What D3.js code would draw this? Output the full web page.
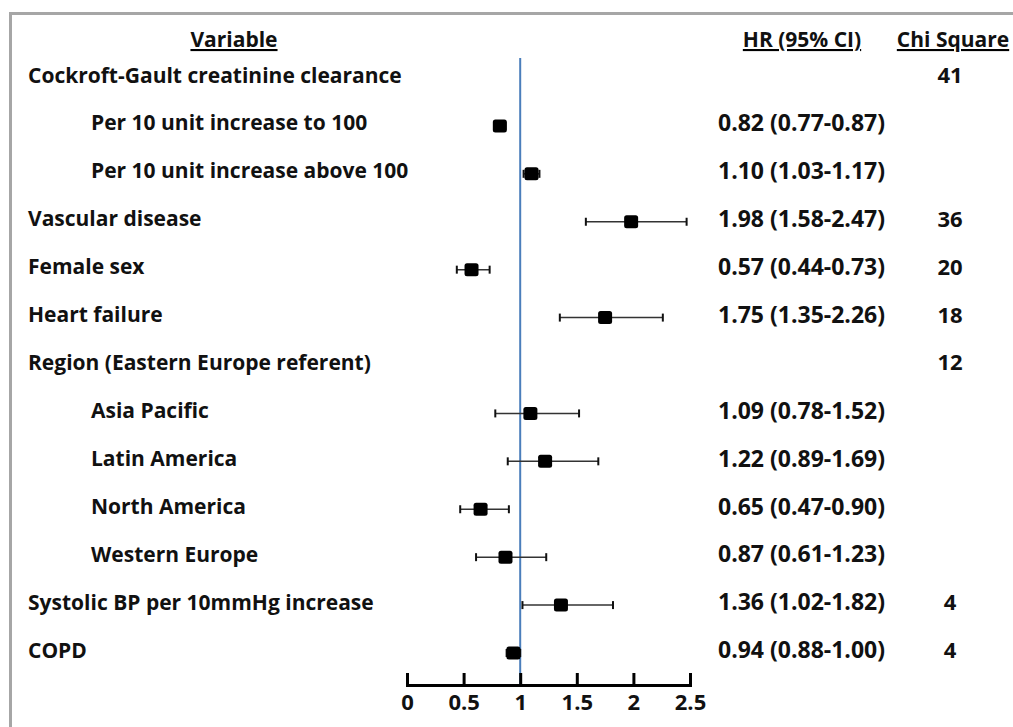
<!DOCTYPE html>
<html>
<head>
<meta charset="utf-8">
<script src="https://cdn.jsdelivr.net/npm/d3@7"></script>
<style>
  body { margin: 0; background: #fff; }
  text { font-family: "Open Sans", Lato, sans-serif; font-weight: bold; fill: #111; }
</style>
</head>
<body>
<div class="js-forest"></div>
<script>
const labels = [
  "Cockroft-Gault creatinine clearance",
  "Per 10 unit increase to 100",
  "Per 10 unit increase above 100",
  "Vascular disease",
  "Female sex",
  "Heart failure",
  "Region (Eastern Europe referent)",
  "Asia Pacific",
  "Latin America",
  "North America",
  "Western Europe",
  "Systolic BP per 10mmHg increase",
  "COPD"
];
const indent = [0, 1, 1, 0, 0, 0, 0, 1, 1, 1, 1, 0, 0];
const hr = [null, 0.82, 1.10, 1.98, 0.57, 1.75, null, 1.09, 1.22, 0.65, 0.87, 1.36, 0.94];
const lower = [null, 0.77, 1.03, 1.58, 0.44, 1.35, null, 0.78, 0.89, 0.47, 0.61, 1.02, 0.88];
const upper = [null, 0.87, 1.17, 2.47, 0.73, 2.26, null, 1.52, 1.69, 0.90, 1.23, 1.82, 1.00];
const chiSquare = ["41", "", "", "36", "20", "18", "12", "", "", "", "", "4", "4"];
const xTicks = [0, 0.5, 1, 1.5, 2, 2.5];

function fmt(v) {
  return v.toFixed(2);
}

function drawForest() {
  const width = 1013;
  const height = 727;

  const rows = labels.map(function(d, i) {
    return {
      label: d,
      indent: indent[i],
      hr: hr[i],
      lo: lower[i],
      hi: upper[i],
      chi: chiSquare[i],
      hrText: hr[i] == null ? "" : fmt(hr[i]) + " (" + fmt(lower[i]) + "-" + fmt(upper[i]) + ")"
    };
  });

  const svg = d3
    .select(".js-forest")
    .append("svg")
    .attr("width", width)
    .attr("height", height);

  // frame
  svg
    .append("path")
    .attr("d", "M10.5," + height + "V13.5H" + width)
    .attr("fill", "none")
    .attr("stroke", "#a6a6a6")
    .attr("stroke-width", 3);

  const x = d3.scaleLinear().domain([0, 2.5]).range([407, 690]);
  const y = d3.scalePoint().domain(d3.range(rows.length)).range([75, 650]);
  const axisY = 685;

  // headers
  const headers = svg.append("g").style("font-size", "21px").style("text-decoration", "underline");
  headers.append("text").attr("x", 234).attr("y", 47).attr("text-anchor", "middle").text("Variable");
  headers.append("text").attr("x", 802).attr("y", 47).attr("text-anchor", "middle").text("HR (95% CI)");
  headers.append("text").attr("x", 953).attr("y", 47).attr("text-anchor", "middle").text("Chi Square");

  // reference line at HR = 1
  svg
    .append("line")
    .attr("x1", x(1))
    .attr("x2", x(1))
    .attr("y1", 58)
    .attr("y2", axisY)
    .attr("stroke", "#4a7ebb")
    .attr("stroke-width", 2);

  const row = svg
    .selectAll(".row")
    .data(rows)
    .enter()
    .append("g")
    .attr("class", "row")
    .attr("transform", function(d, i) {
      return "translate(0," + y(i) + ")";
    });

  row
    .append("text")
    .attr("x", function(d) {
      return d.indent ? 91 : 28;
    })
    .attr("dy", "0.36em")
    .style("font-size", "21px")
    .text(function(d) {
      return d.label;
    });

  row
    .append("text")
    .attr("x", 718)
    .attr("dy", "0.36em")
    .style("font-size", "23px")
    .text(function(d) {
      return d.hrText;
    });

  row
    .append("text")
    .attr("x", 950)
    .attr("dy", "0.36em")
    .attr("text-anchor", "middle")
    .style("font-size", "22px")
    .text(function(d) {
      return d.chi;
    });

  const est = row
    .filter(function(d) {
      return d.hr != null;
    })
    .append("g")
    .attr("transform", "translate(0,3)");

  est
    .append("line")
    .attr("x1", function(d) { return x(d.lo); })
    .attr("x2", function(d) { return x(d.hi); })
    .attr("stroke", "#333")
    .attr("stroke-width", 1.5);

  ["lo", "hi"].forEach(function(k) {
    est
      .append("line")
      .attr("x1", function(d) { return x(d[k]); })
      .attr("x2", function(d) { return x(d[k]); })
      .attr("y1", -4)
      .attr("y2", 4)
      .attr("stroke", "#111")
      .attr("stroke-width", 2);
  });

  est
    .append("rect")
    .attr("x", function(d) { return x(d.hr) - 7; })
    .attr("y", -6.5)
    .attr("width", 14)
    .attr("height", 13)
    .attr("rx", 2.5)
    .attr("fill", "#000");

  // x axis, ticks pointing up
  const axis = svg
    .append("g")
    .attr("transform", "translate(0," + axisY + ")")
    .call(
      d3.axisBottom(x)
        .tickValues(xTicks)
        .tickFormat(d3.format(""))
        .tickSize(-12)
        .tickPadding(9)
    );

  axis.selectAll("path, line").attr("stroke", "#000").attr("stroke-width", 3);
  axis
    .selectAll("text")
    .style("font-size", "22px")
    .attr("fill", "#111")
    .attr("font-family", null);
}

drawForest();
</script>
</body>
</html>
